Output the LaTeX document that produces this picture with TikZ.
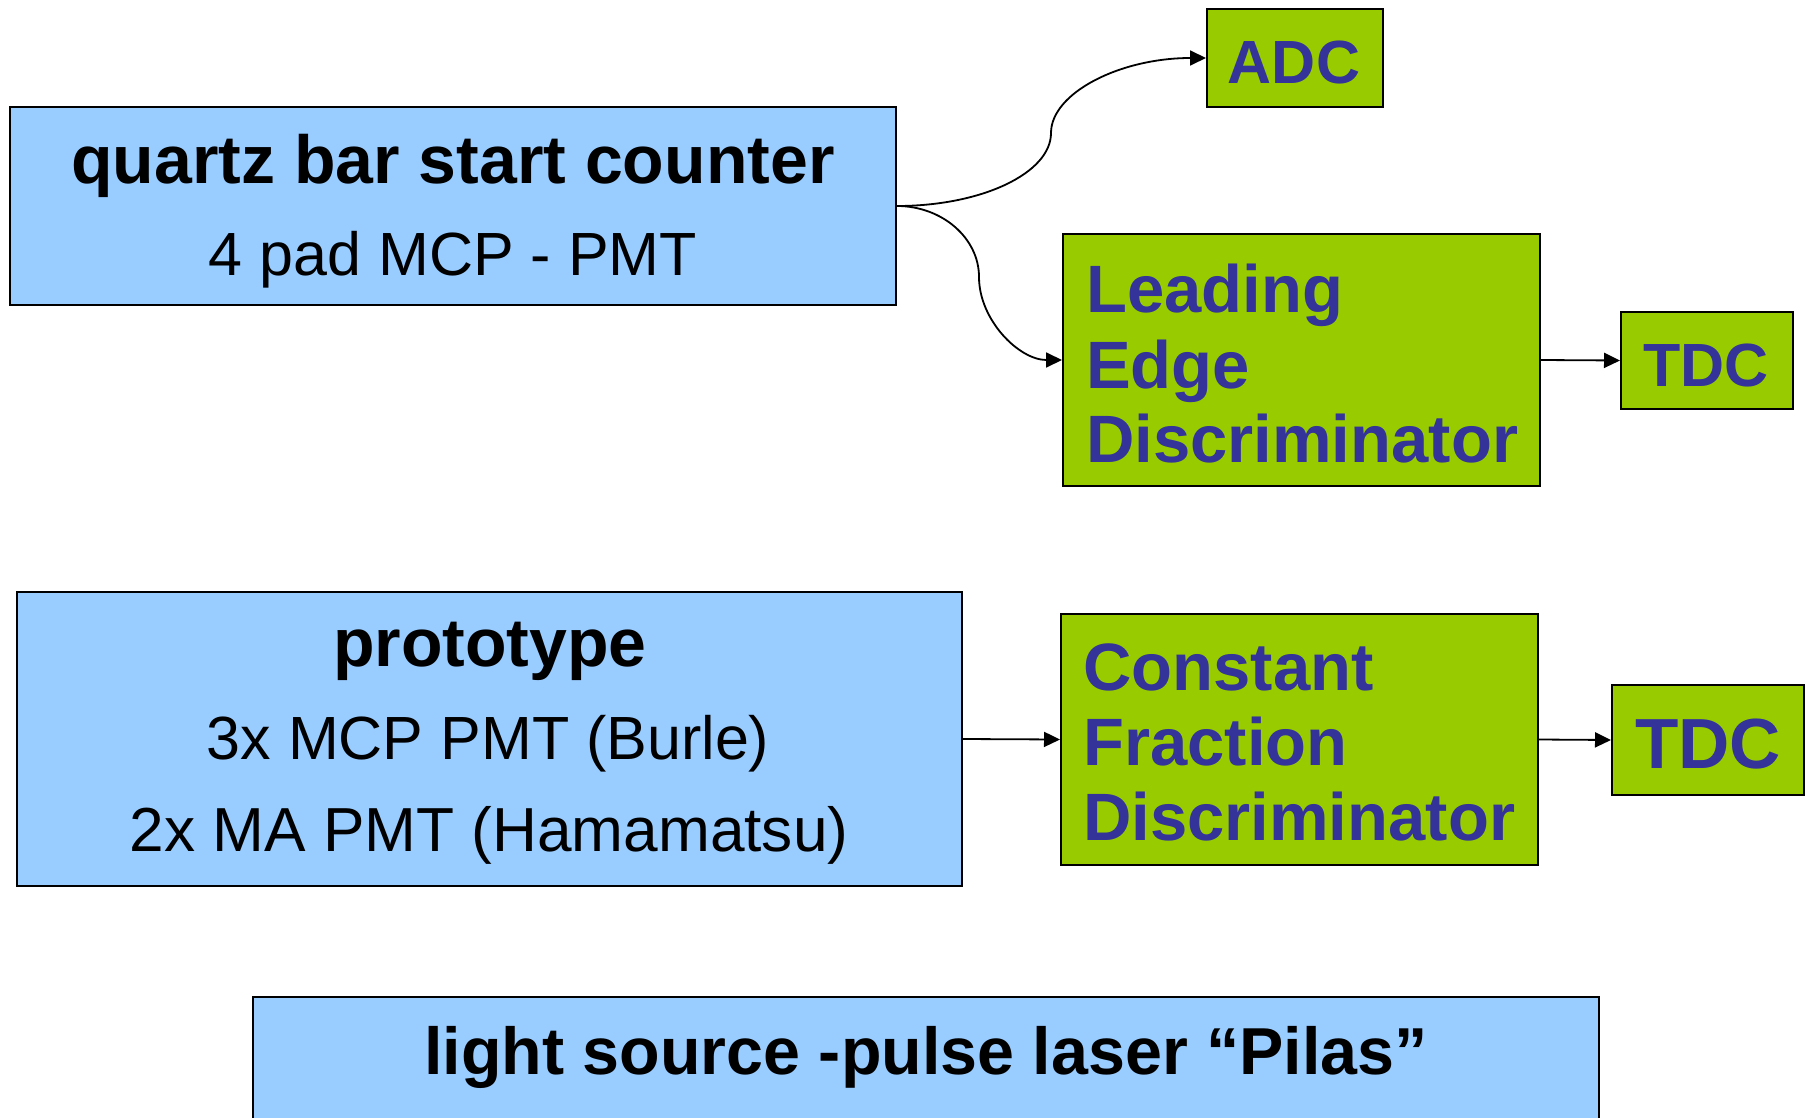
\documentclass[tikz,border=0pt]{standalone}
\usepackage{fontspec}
\setmainfont{Liberation Sans}
\usetikzlibrary{arrows.meta}
\definecolor{boxblue}{HTML}{99CCFF}
\definecolor{boxgreen}{HTML}{99CC00}
\definecolor{txtblue}{HTML}{333399}
\begin{document}
\begin{tikzpicture}[x=1pt,y=-1pt,
  bluebox/.style={draw=black, line width=2pt, fill=boxblue, inner sep=0pt},
  greenbox/.style={draw=black, line width=2pt, fill=boxgreen, inner sep=0pt},
  arr/.style={draw=black, line width=1.8pt, -{Triangle[length=16pt,width=15pt]}},
  bigb/.style={font=\bfseries\fontsize{68}{80}\selectfont, inner sep=0pt},
  reg/.style={font=\fontsize{61}{70}\selectfont, inner sep=0pt},
  gtxt/.style={font=\bfseries\fontsize{67}{78}\selectfont, text=txtblue, inner sep=0pt, anchor=base west},
  ctxt/.style={font=\bfseries\fontsize{61}{70}\selectfont, text=txtblue, inner sep=0pt, anchor=base}]
\path[use as bounding box] (0,0) rectangle (1811,1118);

% boxes
\node[bluebox, minimum width=886pt, minimum height=198pt] (q) at (453,206) {};
\node[greenbox, minimum width=176pt, minimum height=98pt] (adc) at (1295,58) {};
\node[greenbox, minimum width=477pt, minimum height=252pt] (led) at (1301.5,360) {};
\node[greenbox, minimum width=172pt, minimum height=97pt] (tdca) at (1707,360.5) {};
\node[bluebox, minimum width=945pt, minimum height=294pt] (proto) at (489.5,739) {};
\node[greenbox, minimum width=477pt, minimum height=251pt] (cfd) at (1299.5,739.5) {};
\node[greenbox, minimum width=192pt, minimum height=110pt] (tdcb) at (1708,740) {};
\node[bluebox, minimum width=1346pt, minimum height=140pt] (light) at (925.5,1067) {};

% texts
\node[bigb, anchor=base] (qt) at (453,183) {quartz bar start counter};
\node[reg, anchor=base] (qs) at (453,275) {4 pad MCP - PMT};
\node[ctxt] (adct) at (1294,84) {ADC};
\node[gtxt] (l1) at (1086,312) {Leading};
\node[gtxt] (l2) at (1086,388) {Edge};
\node[gtxt] (l3) at (1086,462) {Discriminator};
\node[ctxt] (tdcat) at (1706,386) {TDC};
\node[bigb, anchor=base] (pt) at (490,666) {prototype};
\node[reg, anchor=base] (p1) at (488,759) {3x MCP PMT (Burle)};
\node[reg, anchor=base, font=\fontsize{62.2}{70}\selectfont] (p2) at (489,851) {2x MA PMT (Hamamatsu)};
\node[gtxt] (c1) at (1083,690) {Constant};
\node[gtxt] (c2) at (1083,765) {Fraction};
\node[gtxt] (c3) at (1083,840) {Discriminator};
\node[ctxt, font=\bfseries\fontsize{71}{80}\selectfont] (tdcbt) at (1708,768) {TDC};
\node[bigb, anchor=base, font=\bfseries\fontsize{66.4}{78}\selectfont] (lt) at (926,1074) {light source -pulse laser “Pilas”};

% connectors
\coordinate (m1) at (1051,133);
\coordinate (m2) at (979,277);
\draw[arr] (q.east) .. controls +(85,0) and +(0,40) .. (m1) .. controls +(0,-40) and +(-86,0) .. (adc.west);
\draw[arr] (q.east) .. controls +(45,0) and +(0,-39) .. (m2) .. controls +(0,43) and +(-43,0) .. (led.west);
\draw[arr] (led.east) -- (tdca.west);
\draw[arr] (proto.east) -- (cfd.west);
\draw[arr] (cfd.east) -- (tdcb.west);
\end{tikzpicture}
\end{document}
